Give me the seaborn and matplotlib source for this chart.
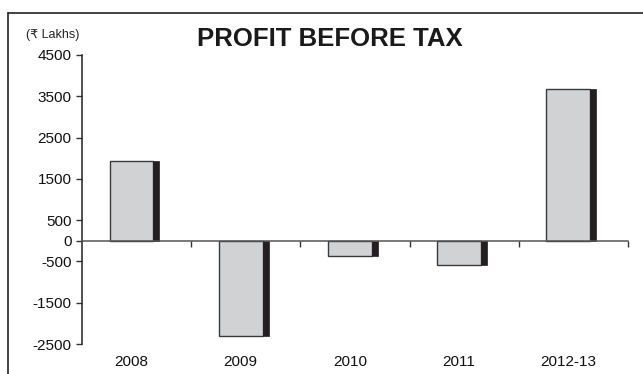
import numpy as np
import pandas as pd
import matplotlib
matplotlib.use("Agg")
import matplotlib.pyplot as plt
from matplotlib.lines import Line2D
import seaborn as sns

categories = ["2008", "2009", "2010", "2011", "2012-13"]
profit = [1930, -2310, -375, -595, 3670]
ytick_values = [4500, 3500, 2500, 1500, 500, 0, -500, -1500, -2500]
title = "PROFIT BEFORE TAX"
unit_label = "(\u20b9 Lakhs)"

sns.set_style("white")
plt.rcParams["font.family"] = ["Liberation Sans", "DejaVu Sans"]

W, H = 643, 374
fig = plt.figure(figsize=(W / 100, H / 100), dpi=100)
ax = fig.add_axes([82 / W, 1 - 344 / H, (628 - 82) / W, (344 - 55) / H])

df = pd.DataFrame({"year": categories, "value": profit})
gray_w = 0.40
sns.barplot(data=df, x="year", y="value", ax=ax, width=gray_w,
            color="#d1d2d4", saturation=1, edgecolor="#3a3a3a",
            linewidth=1.0, errorbar=None, zorder=3)

# dark side strip of each bar
strip_w = 0.055
pos = np.arange(len(categories))
ax.bar(pos + gray_w / 2 + strip_w / 2, profit, width=strip_w,
       color="#231f20", edgecolor="#231f20", linewidth=0.5, zorder=3)

offset = 0.547
ax.set_xlim(-(1 - offset), len(categories) - 1 + offset)
ax.set_ylim(-2500, 4500)

# axes styling
for s in ["top", "right"]:
    ax.spines[s].set_visible(False)
ax.spines["bottom"].set_position(("data", 0))
ax.spines["bottom"].set_color("#555555")
ax.spines["bottom"].set_linewidth(1.1)
ax.spines["left"].set_color("#222222")
ax.spines["left"].set_linewidth(1.1)
ax.spines["bottom"].set_zorder(4)

ax.set_xticks(pos + offset, labels=[""] * len(categories))
ax.set_xticks(pos, labels=categories, minor=True)
ax.tick_params(axis="x", which="major", bottom=True, direction="out",
               length=4.5, width=1.0, color="#333333")
ax.tick_params(axis="x", which="minor", bottom=True, length=0, pad=82,
               labelsize=11, labelcolor="#111111")

ax.set_yticks(ytick_values, labels=[str(v) for v in ytick_values])
ax.tick_params(axis="y", left=True, direction="out", length=4, width=1.0,
               color="#333333", pad=3.5, labelsize=11, labelcolor="#111111")
ax.set_xlabel("")
ax.set_ylabel("")
ax.grid(False)

fig.text(330 / W, 1 - 39 / H, title, ha="center", va="center",
         fontsize=18.5, fontweight="bold", color="#1a1a1a")
fig.text(26 / W, 1 - 35 / H, unit_label, ha="left", va="center",
         fontsize=9, color="#222222")

# outer frame (top and left edges visible)
fig.add_artist(Line2D([7.5 / W, 1], [1 - 12.5 / H, 1 - 12.5 / H],
                      transform=fig.transFigure, color="#222222", lw=1.2))
fig.add_artist(Line2D([7.5 / W, 7.5 / W], [0, 1 - 12.5 / H],
                      transform=fig.transFigure, color="#222222", lw=1.2))

fig.savefig("out.png", dpi=100)
